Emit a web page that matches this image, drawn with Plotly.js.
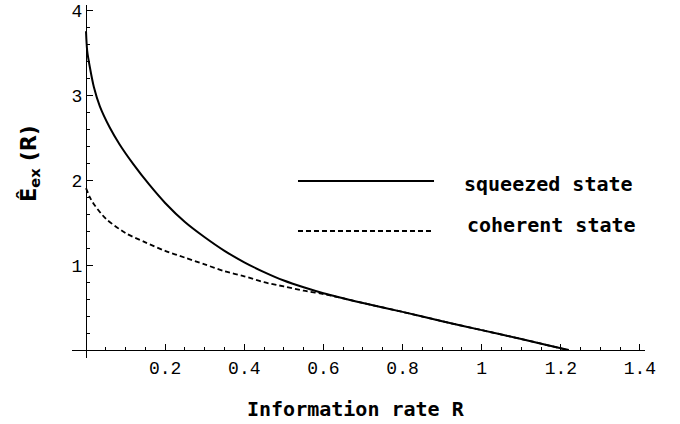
<!DOCTYPE html>
<html>
<head>
<meta charset="utf-8">
<script src="https://cdn.plot.ly/plotly-3.0.1.min.js"></script>
<style>html,body{margin:0;padding:0;background:#fff;}#chart{width:680px;height:424px;}</style>
</head>
<body>
<div id="chart"></div>
<script>
// Information rate R and exponent values
const rSqueezed = [0, 0.003, 0.01, 0.02, 0.035, 0.06, 0.085, 0.12, 0.16, 0.2, 0.25, 0.3, 0.35, 0.4, 0.45, 0.5, 0.55, 0.6, 0.7, 0.8, 0.9, 1.0, 1.1, 1.2, 1.22];
const eSqueezed = [3.76, 3.53, 3.33, 3.1, 2.875, 2.625, 2.425, 2.19, 1.95, 1.735, 1.51, 1.33, 1.17, 1.035, 0.92, 0.82, 0.74, 0.67, 0.555, 0.45, 0.34, 0.235, 0.13, 0.02, 0];
const rCoherent = [0, 0.01, 0.02, 0.05, 0.1, 0.15, 0.2, 0.25, 0.3, 0.35, 0.4, 0.45, 0.5, 0.55, 0.6, 0.7, 0.8, 0.9, 1.0, 1.1, 1.2, 1.22];
const eCoherent = [1.91, 1.8, 1.72, 1.55, 1.38, 1.27, 1.17, 1.09, 1.01, 0.93, 0.87, 0.8, 0.75, 0.7, 0.66, 0.555, 0.45, 0.34, 0.235, 0.13, 0.02, 0];
const xTickVals = [0.2, 0.4, 0.6, 0.8, 1.0, 1.2, 1.4];
const xTickText = ['0.2', '0.4', '0.6', '0.8', '1', '1.2', '1.4'];
const yTickVals = [1, 2, 3, 4];
const yTickText = ['1', '2', '3', '4'];
const seriesNames = ['squeezed state', 'coherent state'];
const xTitle = 'Information rate R';
const yTitle = 'Ê<sub>ex</sub> (R)';

const xRange = [-0.0354, 1.4127];
const yRange = [-0.094, 4.07];

const traces = [
  {x: rSqueezed, y: eSqueezed, mode: 'lines', name: seriesNames[0],
   line: {color: '#000', width: 2, shape: 'spline', smoothing: 0.8}, showlegend: false, hoverinfo: 'skip'},
  {x: rCoherent, y: eCoherent, mode: 'lines', name: seriesNames[1],
   line: {color: '#000', width: 1.8, dash: '5px,3px', shape: 'spline', smoothing: 0.8}, showlegend: false, hoverinfo: 'skip'}
];

const tickFont = {family: 'Liberation Mono, DejaVu Sans Mono, monospace', size: 18, color: '#000'};
const boldFont = {family: 'DejaVu Sans Mono, monospace', size: 20, color: '#000', weight: 'bold'};

const layout = {
  width: 680, height: 424,
  margin: {l: 72, r: 35, t: 5, b: 66},
  paper_bgcolor: '#fff', plot_bgcolor: '#fff',
  showlegend: false,
  xaxis: {
    range: xRange, anchor: 'free',
    position: (0 - yRange[0]) / (yRange[1] - yRange[0]),
    showgrid: false, zeroline: false, showline: true, linecolor: '#000', linewidth: 1.2,
    tickmode: 'array', tickvals: xTickVals, ticktext: xTickText,
    ticks: 'inside', ticklen: 6, tickwidth: 1, tickcolor: '#000',
    tickfont: tickFont, ticklabelstandoff: 1,
    minor: {tickmode: 'linear', tick0: 0, dtick: 0.05, ticks: 'inside', ticklen: 3, tickwidth: 1, tickcolor: '#000', showgrid: false}
  },
  yaxis: {
    range: yRange, anchor: 'free',
    position: (0 - xRange[0]) / (xRange[1] - xRange[0]),
    showgrid: false, zeroline: false, showline: true, linecolor: '#000', linewidth: 1.2,
    tickmode: 'array', tickvals: yTickVals, ticktext: yTickText,
    ticks: 'inside', ticklen: 6, tickwidth: 1, tickcolor: '#000',
    tickfont: tickFont, ticklabelstandoff: 0,
    minor: {tickmode: 'linear', tick0: 0, dtick: 0.2, ticks: 'inside', ticklen: 3, tickwidth: 1, tickcolor: '#000', showgrid: false}
  },
  shapes: [
    {type: 'line', xref: 'paper', yref: 'paper', x0: 0.3944, x1: 0.6318, y0: 0.5014, y1: 0.5014,
     line: {color: '#000', width: 2}},
    {type: 'line', xref: 'paper', yref: 'paper', x0: 0.3944, x1: 0.6300, y0: 0.3598, y1: 0.3598,
     line: {color: '#000', width: 1.8, dash: '5px,3px'}}
  ],
  annotations: [
    {text: seriesNames[0], xref: 'paper', yref: 'paper', x: 0.8316, y: 0.493,
     xanchor: 'center', yanchor: 'middle', showarrow: false, font: boldFont},
    {text: seriesNames[1], xref: 'paper', yref: 'paper', x: 0.8368, y: 0.377,
     xanchor: 'center', yanchor: 'middle', showarrow: false, font: boldFont},
    {text: xTitle, xref: 'paper', yref: 'paper', x: (356 - 72) / 573, y: (358 - 409) / 353,
     xanchor: 'center', yanchor: 'middle', showarrow: false, font: {family: 'DejaVu Sans Mono, monospace', size: 20, color: '#000', weight: 'bold'}},
    {text: yTitle, xref: 'paper', yref: 'paper', x: (30 - 72) / 573, y: (358 - 164) / 353,
     xanchor: 'center', yanchor: 'middle', textangle: -90, showarrow: false,
     font: {family: 'DejaVu Sans, sans-serif', size: 21, color: '#000', weight: 'bold'}}
  ]
};

Plotly.newPlot('chart', traces, layout, {staticPlot: true, displayModeBar: false});
</script>
</body>
</html>
